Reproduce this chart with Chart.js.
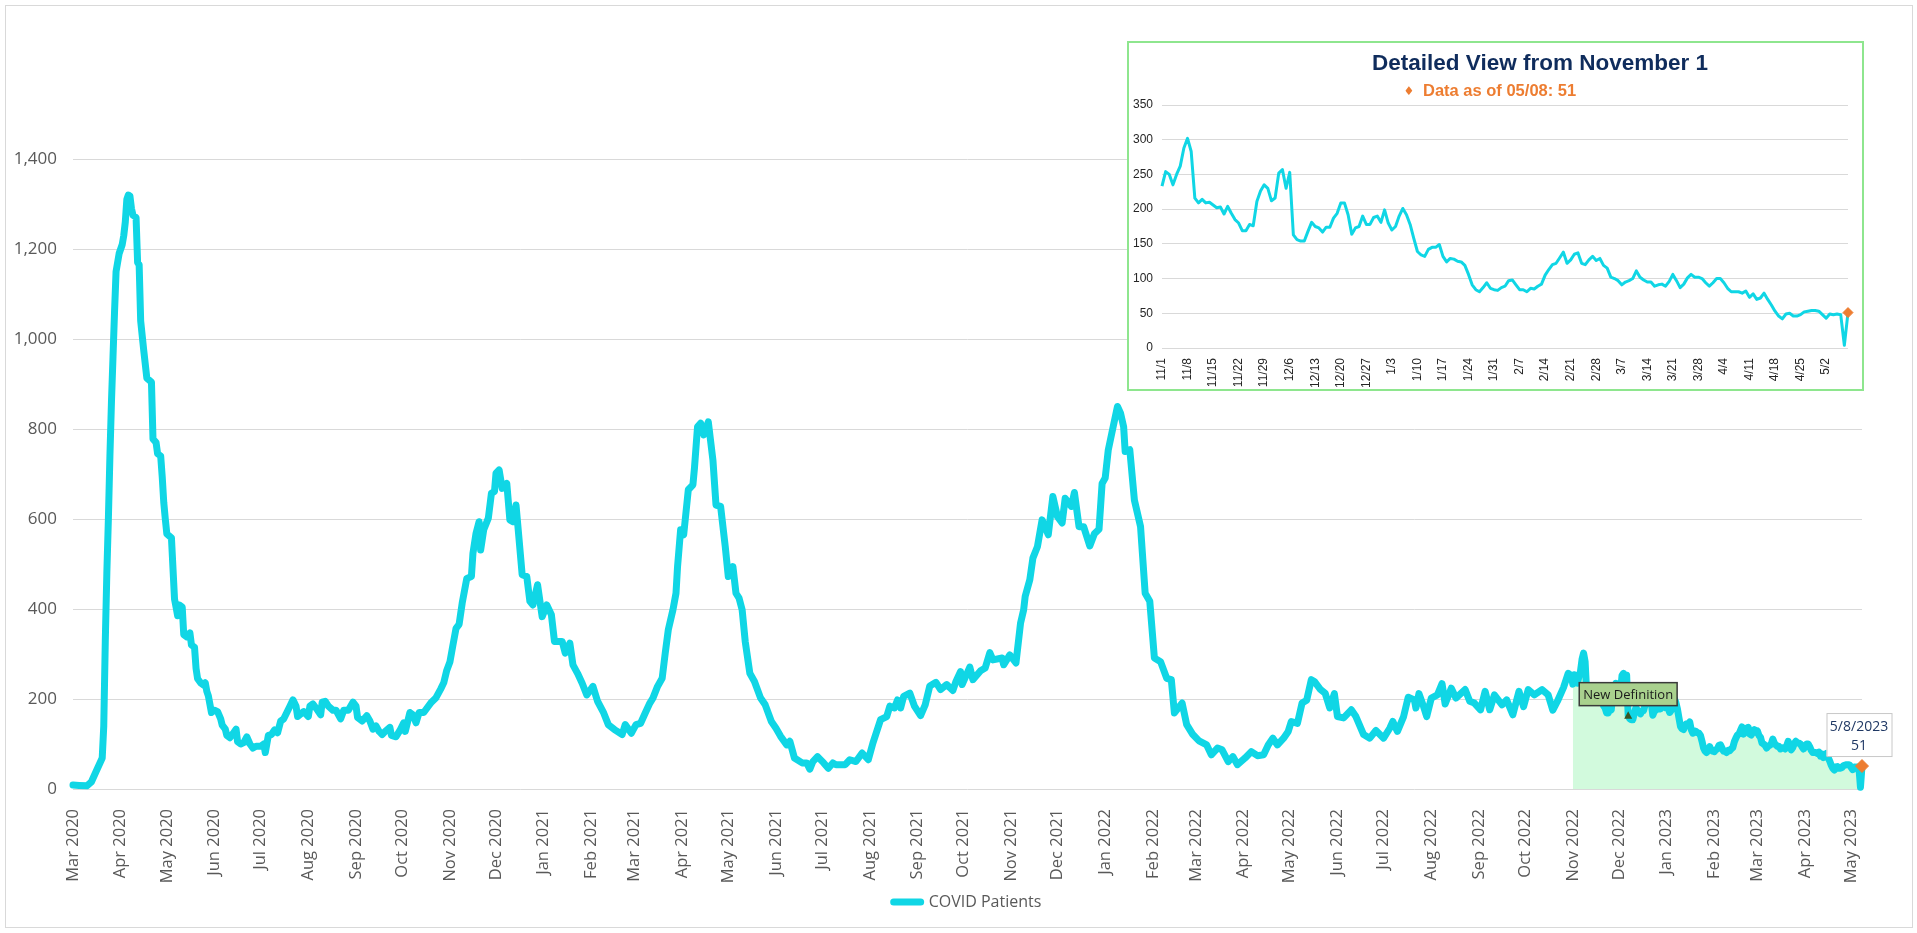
<!DOCTYPE html>
<html>
<head>
<meta charset="utf-8">
<title>COVID Patients</title>
<script src="https://cdn.jsdelivr.net/npm/chart.js@4.4.1/dist/chart.umd.min.js"></script>
<style>
  html, body { margin: 0; padding: 0; background: #fff; }
  #wrap { position: relative; width: 1917px; height: 933px; overflow: hidden; }
  #frame { position: absolute; left: 5px; top: 5px; width: 1908px; height: 923px; border: 1px solid #d9d9d9; box-sizing: border-box; }
  #main { position: absolute; left: 0; top: 0; }
  #insetBox { position: absolute; left: 1127px; top: 41px; width: 737px; height: 350px; border: 2px solid #8ee68e; box-sizing: border-box; background: #fff; }
  #inset { display: block; }
</style>
</head>
<body>
<div id="wrap">
  <div id="frame"></div>
  <canvas id="main" width="1917" height="933"></canvas>
  <div id="insetBox"><canvas id="inset" width="733" height="346"></canvas></div>
</div>
<script>
// Daily census, Mar 2020 - Oct 2022 (x = days since 3/1/2020)
const earlyDays = [
  0, 4, 9, 12, 15, 19, 20, 21, 22, 23, 24, 25, 26, 27, 28, 30, 32, 33, 34, 35,
  36, 37, 38, 39, 41, 42, 43, 44, 46, 48, 51, 52, 54, 55, 57, 58, 59, 60, 61, 64,
  66, 67, 68, 69, 71, 72, 74, 76, 77, 79, 80, 81, 83, 85, 86, 87, 88, 90, 92, 94,
  96, 97, 99, 100, 102, 104, 106, 107, 109, 111, 113, 115, 117, 119, 122, 124, 125, 127, 129, 131,
  133, 135, 137, 139, 141, 143, 145, 146, 150, 153, 154, 156, 159, 161, 162, 164, 166, 169, 171, 174,
  176, 179, 182, 184, 185, 188, 191, 193, 195, 197, 199, 201, 203, 206, 207, 210, 213, 215, 216, 218,
  219, 221, 223, 225, 228, 231, 233, 236, 239, 241, 243, 245, 247, 249, 251, 253, 256, 259, 260, 262,
  264, 265, 267, 270, 272, 274, 275, 277, 279, 282, 284, 286, 288, 290, 292, 295, 297, 299, 302, 305,
  308, 311, 313, 318, 320, 323, 325, 328, 331, 334, 338, 341, 345, 348, 352, 357, 359, 363, 366, 369,
  372, 375, 377, 380, 383, 385, 387, 390, 392, 393, 395, 397, 400, 403, 404, 406, 408, 410, 413, 416,
  418, 421, 424, 426, 429, 431, 433, 435, 437, 440, 443, 447, 450, 454, 457, 460, 464, 466, 469, 474,
  477, 479, 481, 484, 488, 491, 494, 496, 502, 505, 509, 513, 517, 520, 525, 529, 531, 534, 536, 538,
  540, 544, 547, 551, 554, 557, 561, 564, 568, 572, 574, 577, 578, 583, 585, 590, 593, 596, 598, 604,
  605, 609, 613, 616, 618, 619, 622, 624, 627, 630, 634, 637, 640, 643, 645, 649, 651, 654, 657, 661,
  664, 667, 669, 671, 673, 676, 679, 681, 683, 684, 687, 690, 694, 697, 700, 703, 707, 711, 714, 716,
  721, 724, 728, 732, 737, 740, 744, 747, 751, 754, 757, 762, 766, 770, 774, 777, 780, 783, 787, 790,
  792, 796, 799, 802, 805, 807, 811, 814, 817, 820, 822, 826, 831, 834, 839, 843, 847, 852, 856, 858,
  861, 865, 868, 872, 873, 875, 878, 880, 883, 887, 890, 892, 896, 899, 905, 908, 911, 915, 918, 921,
  924, 929, 932, 936, 940, 943, 946, 950, 955, 959, 962, 965, 969, 972, 974
];
const earlyPatients = [
  9, 8, 7, 16, 39, 69, 140, 330, 480, 600, 740, 860, 960, 1060, 1150, 1190, 1210, 1230, 1260, 1310,
  1320, 1318, 1290, 1275, 1270, 1170, 1165, 1040, 974, 913, 904, 778, 770, 745, 740, 694, 637, 600, 567, 558,
  422, 404, 385, 409, 404, 343, 338, 347, 320, 315, 268, 245, 236, 231, 236, 217, 207, 170, 175, 172,
  156, 142, 133, 119, 114, 123, 133, 105, 100, 103, 116, 100, 91, 95, 95, 100, 81, 119, 121, 131,
  125, 151, 156, 170, 184, 198, 184, 161, 172, 161, 184, 189, 175, 165, 193, 195, 184, 175, 175, 156,
  175, 175, 193, 184, 159, 151, 163, 151, 133, 140, 128, 121, 128, 137, 119, 116, 133, 147, 128, 156,
  170, 165, 147, 170, 170, 184, 193, 203, 222, 236, 264, 282, 320, 357, 366, 413, 468, 472, 524, 568,
  594, 531, 576, 602, 657, 661, 702, 709, 668, 679, 598, 594, 631, 554, 476, 472, 417, 409, 454, 383,
  409, 387, 328, 328, 302, 324, 276, 257, 235, 209, 228, 195, 169, 143, 132, 121, 143, 124, 143, 146,
  169, 191, 202, 228, 246, 302, 354, 398, 435, 494, 576, 565, 665, 676, 713, 805, 813, 787, 816, 731,
  631, 628, 539, 472, 494, 435, 424, 398, 328, 257, 239, 202, 187, 150, 135, 117, 98, 106, 69, 58,
  58, 44, 61, 72, 58, 46, 58, 54, 54, 65, 61, 80, 65, 102, 154, 161, 184, 180, 198, 180,
  206, 213, 184, 163, 187, 229, 237, 221, 232, 219, 239, 261, 232, 271, 243, 263, 269, 303, 287, 291,
  276, 298, 280, 369, 398, 428, 465, 513, 539, 598, 565, 650, 605, 591, 646, 628, 659, 583, 583, 540,
  567, 577, 679, 691, 753, 802, 850, 835, 805, 750, 754, 642, 583, 435, 417, 291, 283, 246, 243, 169,
  191, 143, 121, 107, 98, 76, 91, 87, 61, 72, 54, 69, 83, 74, 76, 98, 113, 98, 113, 128,
  150, 146, 191, 197, 243, 239, 221, 213, 180, 212, 161, 158, 176, 161, 121, 113, 130, 113, 135, 150,
  128, 161, 204, 198, 180, 212, 183, 161, 202, 209, 234, 189, 224, 202, 221, 195, 191, 176, 217, 176,
  209, 187, 198, 165, 217, 183, 221, 209, 221, 209, 175, 195, 226, 257, 252
];
// Daily values from 11/1/2022 to 5/8/2023 (index = days since 11/1/2022)
const recentPatients = [
  233, 254, 250, 235, 250, 262, 288, 302, 283, 216,
  209, 214, 209, 210, 206, 202, 203, 193, 204, 194,
  185, 180, 169, 169, 178, 176, 211, 226, 235, 230,
  212, 216, 252, 257, 230, 253, 163, 156, 154, 154,
  168, 181, 175, 173, 167, 174, 174, 187, 194, 209,
  209, 192, 164, 173, 175, 190, 178, 178, 188, 190,
  181, 199, 180, 170, 175, 190, 201, 192, 178, 158,
  139, 134, 132, 142, 145, 145, 149, 132, 124, 129,
  128, 125, 124, 119, 106, 91, 84, 81, 87, 94,
  86, 84, 83, 87, 89, 97, 98, 91, 84, 84,
  81, 86, 85, 89, 92, 105, 113, 120, 122, 130,
  138, 122, 127, 135, 137, 122, 120, 127, 132, 126,
  129, 119, 115, 102, 100, 97, 91, 95, 97, 100,
  111, 102, 98, 95, 95, 89, 91, 92, 89, 96,
  106, 97, 87, 92, 101, 106, 102, 102, 100, 94,
  89, 94, 100, 100, 94, 86, 81, 81, 81, 79,
  82, 73, 78, 70, 72, 79, 70, 62, 53, 46,
  42, 49, 50, 46, 46, 48, 52, 53, 54, 54,
  53, 48, 43, 49, 48, 49, 48, 4, 51
];
const newDefinitionIndex = 36;   // first day on the new definition (12/7/2022)
const yTicksMain = [0, 200, 400, 600, 800, 1000, 1200, 1400];
const yTicksInset = [0, 50, 100, 150, 200, 250, 300, 350];

const CYAN = '#10d6e5';
const ORANGE = '#ed7d31';
const FILL_GREEN = '#d2fadd';
const GRID = '#d9d9d9';
const TICK = '#595959';
const MONTHS = ['Jan', 'Feb', 'Mar', 'Apr', 'May', 'Jun', 'Jul', 'Aug', 'Sep', 'Oct', 'Nov', 'Dec'];

const DAY = 86400000;
const START = Date.UTC(2020, 2, 1);
const dayOf = (y, m, d) => Math.round((Date.UTC(y, m - 1, d) - START) / DAY);
const dateOf = day => new Date(START + day * DAY);
const RECENT_START = dayOf(2022, 11, 1);
const LAST_INDEX = recentPatients.length - 1;
const LAST_DAY = RECENT_START + LAST_INDEX;

// month ticks Mar 2020 .. May 2023
const monthTickDays = [];
const monthTickLabels = [];
for (let y = 2020, m = 3; y < 2023 || m <= 5; m++) {
  if (m > 12) { m = 1; y++; }
  monthTickDays.push(dayOf(y, m, 1));
  monthTickLabels.push(MONTHS[m - 1] + ' ' + y);
}

// weekly ticks for the inset, 11/1 .. 5/2
const weekTickIdx = [];
const weekTickLabels = [];
for (let i = 0; i <= LAST_INDEX; i += 7) {
  const d = dateOf(RECENT_START + i);
  weekTickIdx.push(i);
  weekTickLabels.push((d.getUTCMonth() + 1) + '/' + d.getUTCDate());
}

const mainPoints = earlyDays.map((d, i) => ({ x: d, y: earlyPatients[i] }))
  .concat(recentPatients.map((v, i) => ({ x: RECENT_START + i, y: v })));
const fillPoints = recentPatients.map((v, i) => ({ x: RECENT_START + i, y: v }));

Chart.defaults.font.family = "'Open Sans', sans-serif";
Chart.defaults.color = TICK;

const mainNotes = {
  id: 'mainNotes',
  afterDatasetsDraw(chart) {
    const { ctx, scales: { x, y } } = chart;
    ctx.save();

    // "New Definition" marker
    const nx = x.getPixelForValue(RECENT_START + newDefinitionIndex);
    const ny = y.getPixelForValue(recentPatients[newDefinitionIndex]);
    ctx.fillStyle = '#375623';
    ctx.beginPath();
    ctx.moveTo(nx, ny - 4.5);
    ctx.lineTo(nx + 4, ny + 3);
    ctx.lineTo(nx - 4, ny + 3);
    ctx.closePath();
    ctx.fill();

    ctx.font = "13px 'Open Sans', sans-serif";
    const label = 'New Definition';
    const bw = ctx.measureText(label).width + 8;
    const bh = 23;
    const bx = nx - bw / 2;
    const by = ny - 10 - bh;
    ctx.fillStyle = '#a9d18e';
    ctx.fillRect(bx, by, bw, bh);
    ctx.strokeStyle = '#3a3a3a';
    ctx.lineWidth = 1.5;
    ctx.strokeRect(bx, by, bw, bh);
    ctx.fillStyle = '#1a1a1a';
    ctx.textAlign = 'center';
    ctx.textBaseline = 'middle';
    ctx.fillText(label, nx, by + bh / 2 + 1);

    // last value call-out
    const lx = x.getPixelForValue(LAST_DAY);
    const ly = y.getPixelForValue(recentPatients[LAST_INDEX]);
    const ld = dateOf(LAST_DAY);
    const line1 = (ld.getUTCMonth() + 1) + '/' + ld.getUTCDate() + '/' + ld.getUTCFullYear();
    const line2 = String(recentPatients[LAST_INDEX]);
    ctx.font = "14px 'Open Sans', sans-serif";
    const cw = 65, ch = 43;
    const cx = lx - 3;
    const cy = ly - 10 - ch;
    ctx.fillStyle = '#ffffff';
    ctx.fillRect(cx - cw / 2, cy, cw, ch);
    ctx.strokeStyle = '#c8c8c8';
    ctx.lineWidth = 1;
    ctx.strokeRect(cx - cw / 2 + 0.5, cy + 0.5, cw, ch);
    ctx.fillStyle = '#1f3864';
    ctx.textBaseline = 'alphabetic';
    ctx.fillText(line1, cx, cy + 18);
    ctx.fillText(line2, cx, cy + 37);
    ctx.restore();
  }
};

new Chart(document.getElementById('main'), {
  type: 'line',
  data: {
    datasets: [
      {
        label: 'COVID Patients',
        data: mainPoints,
        borderColor: CYAN,
        backgroundColor: CYAN,
        borderWidth: 7,
        borderJoinStyle: 'round',
        borderCapStyle: 'round',
        tension: 0,
        fill: false,
        clip: false,
        pointStyle: 'rectRot',
        pointRadius: ctx => ctx.dataIndex === mainPoints.length - 1 ? 6.5 : 0,
        pointHoverRadius: 0,
        pointBackgroundColor: ORANGE,
        pointBorderColor: ORANGE,
        pointBorderWidth: 1,
        order: 1
      },
      {
        label: 'since Nov 1',
        data: fillPoints,
        borderColor: 'rgba(0,0,0,0)',
        borderWidth: 0,
        backgroundColor: FILL_GREEN,
        pointRadius: 0,
        fill: 'origin',
        tension: 0,
        order: 2
      }
    ]
  },
  options: {
    responsive: false,
    animation: false,
    events: [],
    layout: { padding: { top: 159, right: 55, bottom: 13, left: 0 } },
    plugins: {
      tooltip: { enabled: false },
      legend: {
        position: 'bottom',
        fullSize: false,
        labels: {
          usePointStyle: true,
          pointStyleWidth: 27,
          color: TICK,
          font: { size: 16 },
          padding: 10,
          generateLabels: chart => [{
            text: chart.data.datasets[0].label,
            datasetIndex: 0,
            hidden: false,
            pointStyle: 'line',
            strokeStyle: CYAN,
            fillStyle: CYAN,
            lineWidth: 7,
            lineCap: 'round',
            fontColor: TICK
          }]
        }
      }
    },
    scales: {
      x: {
        type: 'linear',
        min: 0,
        max: LAST_DAY,
        afterBuildTicks: s => { s.ticks = monthTickDays.map(v => ({ value: v })); },
        afterFit: s => { s.height = 95; },
        grid: { display: false },
        border: { display: false },
        ticks: {
          autoSkip: false,
          minRotation: 90,
          maxRotation: 90,
          padding: 12,
          color: TICK,
          font: { size: 16.5 },
          callback: (v, i) => monthTickLabels[i]
        }
      },
      y: {
        min: 0,
        max: 1400,
        afterBuildTicks: s => { s.ticks = yTicksMain.map(v => ({ value: v })); },
        afterFit: s => { s.width = 73; },
        grid: { color: GRID, lineWidth: 1, drawTicks: false },
        border: { display: false },
        ticks: {
          padding: 16,
          color: TICK,
          font: { size: 17 },
          callback: v => v.toLocaleString('en-US')
        }
      }
    }
  },
  plugins: [mainNotes]
});

const insetText = {
  id: 'insetText',
  afterDraw(chart) {
    const ctx = chart.ctx;
    const ld = dateOf(LAST_DAY);
    const mm = String(ld.getUTCMonth() + 1).padStart(2, '0');
    const dd = String(ld.getUTCDate()).padStart(2, '0');
    ctx.save();
    ctx.textBaseline = 'alphabetic';
    ctx.textAlign = 'center';
    ctx.fillStyle = '#0f2c5c';
    ctx.font = "bold 22.5px 'Liberation Sans', Arial, sans-serif";
    ctx.fillText('Detailed View from November 1', 411, 26.5);
    ctx.fillStyle = ORANGE;
    ctx.font = "12px 'DejaVu Sans', sans-serif";
    ctx.fillText('\u2666', 280, 52);
    ctx.textAlign = 'left';
    ctx.font = "bold 16.5px 'Liberation Sans', Arial, sans-serif";
    ctx.fillText('Data as of ' + mm + '/' + dd + ': ' + recentPatients[LAST_INDEX], 294, 53);
    ctx.restore();
  }
};

new Chart(document.getElementById('inset'), {
  type: 'line',
  data: {
    datasets: [{
      label: 'COVID Patients',
      data: recentPatients.map((v, i) => ({ x: i, y: v })),
      borderColor: CYAN,
      backgroundColor: CYAN,
      borderWidth: 3,
      borderJoinStyle: 'round',
      tension: 0,
      clip: false,
      pointStyle: 'rectRot',
      pointRadius: ctx => ctx.dataIndex === LAST_INDEX ? 5 : 0,
      pointHoverRadius: 0,
      pointBackgroundColor: ORANGE,
      pointBorderColor: ORANGE,
      pointBorderWidth: 1
    }]
  },
  options: {
    responsive: false,
    animation: false,
    events: [],
    layout: { padding: { top: 62, right: 14, bottom: 0, left: 0 } },
    plugins: { legend: { display: false }, tooltip: { enabled: false } },
    scales: {
      x: {
        type: 'linear',
        min: 0,
        max: LAST_INDEX,
        afterBuildTicks: s => { s.ticks = weekTickIdx.map(v => ({ value: v })); },
        afterFit: s => { s.height = 41; },
        grid: { display: false },
        border: { display: false },
        ticks: {
          autoSkip: false,
          minRotation: 90,
          maxRotation: 90,
          padding: 2,
          color: '#262626',
          font: { family: "'Liberation Sans', Arial, sans-serif", size: 12 },
          callback: (v, i) => weekTickLabels[i]
        }
      },
      y: {
        min: 0,
        max: 350,
        afterBuildTicks: s => { s.ticks = yTicksInset.map(v => ({ value: v })); },
        afterFit: s => { s.width = 33; },
        grid: { color: GRID, lineWidth: 1, drawTicks: false },
        border: { display: false },
        ticks: {
          padding: 9,
          color: '#262626',
          font: { family: "'Liberation Sans', Arial, sans-serif", size: 12 }
        }
      }
    }
  },
  plugins: [insetText]
});
</script>
</body>
</html>
